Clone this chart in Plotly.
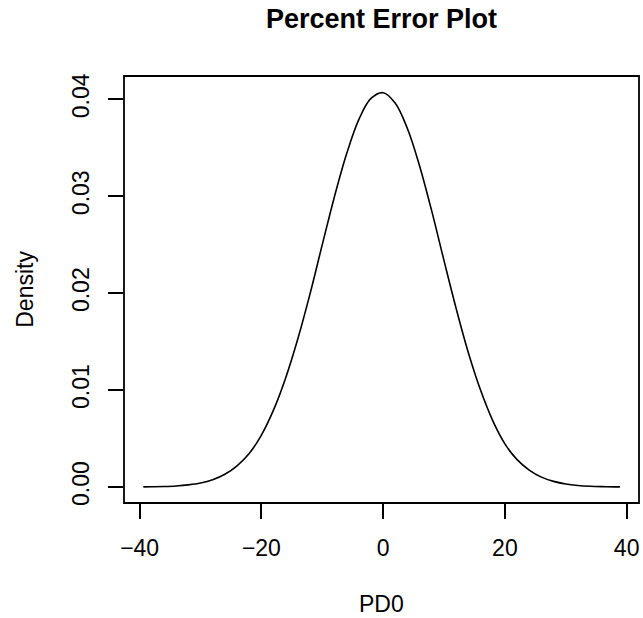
import plotly.graph_objects as go

# Kernel density estimate
pd0 = [-39.4, -38, -36, -34, -32, -30, -28, -26, -24, -22, -20, -18, -16, -14, -12, -10, -8, -6,
       -4, -2, 0, 2, 4, 6, 8, 10, 12, 14, 16, 18, 20, 22, 24, 26, 28, 30, 32, 34, 36, 38, 38.9]
density = [0.000012, 0.000025, 0.000053, 0.00011, 0.00022, 0.00041, 0.00075, 0.00131, 0.00219,
           0.00345, 0.00535, 0.00795, 0.01128, 0.01532, 0.01995, 0.02500, 0.02995, 0.03437,
           0.03790, 0.04009, 0.04068, 0.03959, 0.03696, 0.03310, 0.02843, 0.02335, 0.01840,
           0.01385, 0.01000, 0.00685, 0.00445, 0.00282, 0.00175, 0.00102, 0.00058, 0.00031,
           0.00016, 0.00008, 0.00004, 0.000018, 0.000012]

x_ticks = [-40, -20, 0, 20, 40]
x_tick_labels = ["\u221240", "\u221220", "0", "20", "40"]
y_ticks = [0.00, 0.01, 0.02, 0.03, 0.04]
y_tick_labels = ["0.00", "0.01", "0.02", "0.03", "0.04"]

FONT = "Liberation Sans, Arial, Helvetica, sans-serif"
FS = 23

fig = go.Figure()
fig.add_trace(go.Scatter(x=pd0, y=density, mode="lines",
                         line=dict(color="black", width=1.6, shape="spline", smoothing=1.0),
                         hoverinfo="x+y", showlegend=False))

fig.update_layout(
    width=643, height=618,
    margin=dict(l=124, r=4, t=76, b=115, pad=0),
    paper_bgcolor="white", plot_bgcolor="white",
    font=dict(family=FONT, size=FS, color="black"),
    title=dict(text="<b>Percent Error Plot</b>", x=0.5, xref="paper", xanchor="center",
               y=1 - 19 / 618, yref="container", yanchor="middle",
               font=dict(family=FONT, size=27, color="black")),
    xaxis=dict(range=[-42.57, 42.03], showgrid=False, zeroline=False, showline=False,
               tickmode="array", tickvals=x_ticks, ticktext=x_tick_labels,
               ticks="outside", ticklen=15, tickwidth=1.5, tickcolor="black",
               tickfont=dict(family=FONT, size=FS), ticklabelstandoff=9),
    yaxis=dict(range=[-0.00165, 0.0424], showgrid=False, zeroline=False, showline=False,
               tickmode="array", tickvals=y_ticks, ticktext=y_tick_labels,
               ticks="outside", ticklen=15, tickwidth=1.5, tickcolor="black",
               tickangle=-90, tickfont=dict(family=FONT, size=FS), ticklabelstandoff=10),
    shapes=[dict(type="rect", xref="paper", yref="paper", x0=0, y0=0, x1=1, y1=1,
                 line=dict(color="black", width=1.8), fillcolor="rgba(0,0,0,0)")],
    annotations=[
        dict(text="PD0", xref="paper", yref="paper", x=0.5, y=(502.7 - 604) / 426.7,
             xanchor="center", yanchor="middle", showarrow=False,
             font=dict(family=FONT, size=FS)),
        dict(text="Density", xref="paper", yref="paper", x=(24.6 - 124.3) / 514.7, y=0.5,
             xanchor="center", yanchor="middle", textangle=-90, showarrow=False,
             font=dict(family=FONT, size=FS)),
    ],
)

fig.write_html("out.html")
